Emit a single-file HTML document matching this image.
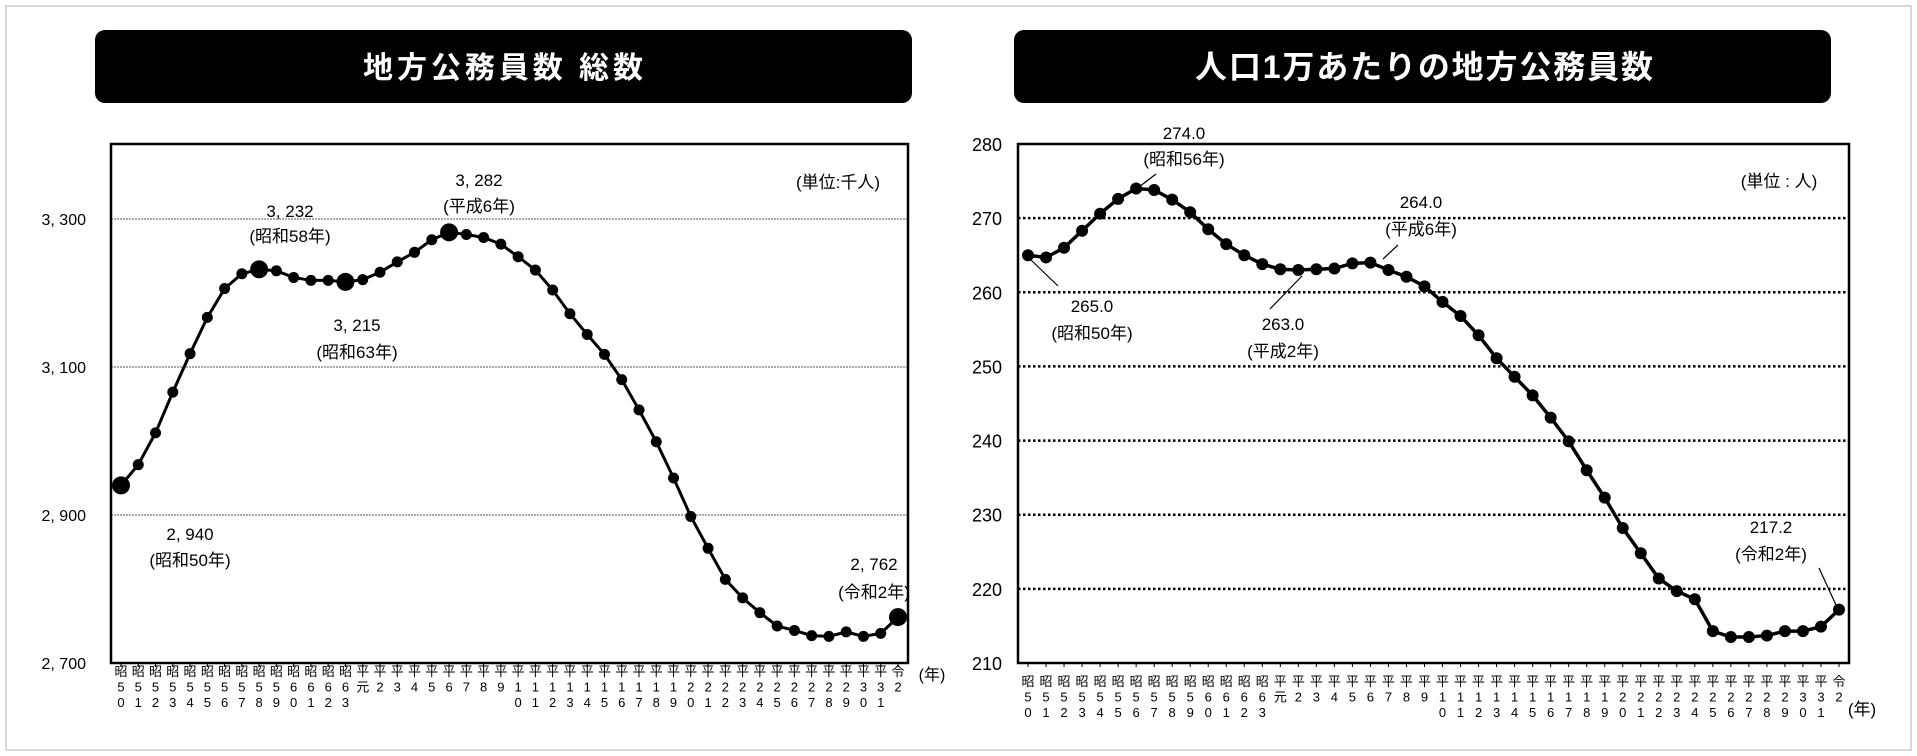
<!DOCTYPE html>
<html><head><meta charset="utf-8"><style>
html,body{margin:0;padding:0;background:#fff}
svg{display:block}
text{font-family:"Liberation Sans","Noto Sans CJK JP",sans-serif;fill:#000}
</style></head><body>
<svg id="s" width="1917" height="756" viewBox="0 0 1917 756" xmlns="http://www.w3.org/2000/svg">
<rect x="6" y="6" width="1905" height="744" fill="#fff" stroke="#d8d8d8" stroke-width="2"/>
<rect x="95" y="30" width="817" height="73" rx="10" fill="#000"/>
<text x="503" y="78" font-size="30" font-weight="bold" text-anchor="middle" style="fill:#fff" textLength="280">地方公務員数 総数</text>
<rect x="1014" y="30" width="817" height="73" rx="10" fill="#000"/>
<text x="1424" y="78" font-size="32" font-weight="bold" text-anchor="middle" style="fill:#fff" textLength="458">人口1万あたりの地方公務員数</text>
<g id="L"></g><g id="R"></g>
</svg>
<script>
const NS="http://www.w3.org/2000/svg";
function el(p,t,a,txt){const e=document.createElementNS(NS,t);for(const k in a)e.setAttribute(k,a[k]);if(txt!=null)e.textContent=txt;p.appendChild(e);return e;}
const labs=[];
for(let i=50;i<=63;i++)labs.push(["昭",...String(i)]);
labs.push(["平","元"]);
for(let i=2;i<=31;i++)labs.push(["平",...String(i)]);
labs.push(["令","2"]);
// Left
const L=document.getElementById("L");
const lv=[2940,2968,3011,3066,3118,3167,3206,3226,3232,3230,3221,3217,3217,3215,3218,3228,3242,3255,3272,3282,3279,3275,3266,3249,3231,3204,3172,3144,3117,3083,3042,2999,2950,2898,2855,2813,2788,2768,2750,2744,2737,2736,2742,2736,2740,2762];
const ly=v=>663-(v-2700)/200*148, lx=i=>121+i*(898-121)/45;
[3300,3100,2900].forEach(v=>el(L,"line",{x1:111,x2:908,y1:ly(v),y2:ly(v),stroke:"#555","stroke-width":1,"stroke-dasharray":"2,1"}));
el(L,"rect",{x:111,y:144,width:797,height:519,fill:"none",stroke:"#000","stroke-width":2.5});
[3300,3100,2900,2700].forEach(v=>el(L,"text",{x:86,y:ly(v)+6,"font-size":16,"text-anchor":"end"},v.toLocaleString("en").replace(",",", ")));
el(L,"polyline",{points:lv.map((v,i)=>lx(i)+","+ly(v)).join(" "),fill:"none",stroke:"#000","stroke-width":3});
const big=[0,8,13,19,45];
lv.forEach((v,i)=>el(L,"circle",{cx:lx(i),cy:ly(v),r:big.includes(i)?9:5.5,fill:"#000"}));
labs.forEach((l,i)=>{el(L,"line",{x1:lx(i),x2:lx(i),y1:663,y2:667,stroke:"#000"});l.forEach((c,j)=>el(L,"text",{x:lx(i),y:676+j*15.5,"font-size":13,"text-anchor":"middle"},c));});
el(L,"text",{x:932,y:680,"font-size":16,"text-anchor":"middle"},"(年)");
[[838,182,"(単位:千人)"],[290,211,"3, 232"],[290,236,"(昭和58年)"],[479,180,"3, 282"],[479,206,"(平成6年)"],[357,325,"3, 215"],[357,352,"(昭和63年)"],[190,534,"2, 940"],[190,560,"(昭和50年)"],[874,564,"2, 762"],[874,592,"(令和2年)"]].forEach(a=>el(L,"text",{x:a[0],y:a[1]+6,"font-size":17,"text-anchor":"middle"},a[2]));
// Right
const R=document.getElementById("R");
const rv=[265.0,264.7,266.0,268.3,270.6,272.6,274.0,273.8,272.5,270.8,268.5,266.5,265.0,263.8,263.1,263.0,263.1,263.2,263.9,264.0,263.0,262.1,260.8,258.7,256.8,254.2,251.1,248.6,246.1,243.1,239.9,236.0,232.3,228.2,224.8,221.4,219.7,218.6,214.3,213.5,213.5,213.7,214.3,214.3,214.9,217.2];
const ry=v=>144+(280-v)*519/70, rx=i=>1028+i*(1839-1028)/45;
[270,260,250,240,230,220].forEach(v=>el(R,"line",{x1:1018,x2:1849,y1:ry(v),y2:ry(v),stroke:"#000","stroke-width":2.5,"stroke-dasharray":"2.5,2.5"}));
el(R,"rect",{x:1018,y:144,width:831,height:519,fill:"none",stroke:"#000","stroke-width":2.5});
[280,270,260,250,240,230,220,210].forEach(v=>el(R,"text",{x:972,y:ry(v)+7,"font-size":18},v));
el(R,"polyline",{points:rv.map((v,i)=>rx(i)+","+ry(v)).join(" "),fill:"none",stroke:"#000","stroke-width":3.5});
rv.forEach((v,i)=>el(R,"circle",{cx:rx(i),cy:ry(v),r:6,fill:"#000"}));
labs.forEach((l,i)=>{el(R,"line",{x1:rx(i),x2:rx(i),y1:663,y2:667,stroke:"#000"});l.forEach((c,j)=>el(R,"text",{x:rx(i),y:686+j*15.5,"font-size":13,"text-anchor":"middle"},c));});
el(R,"text",{x:1862,y:715,"font-size":17,"text-anchor":"middle"},"(年)");
[[1779,181,"(単位 : 人)"],[1184,133,"274.0"],[1184,159,"(昭和56年)"],[1421,202,"264.0"],[1421,229,"(平成6年)"],[1092,306,"265.0"],[1092,333,"(昭和50年)"],[1283,324,"263.0"],[1283,351,"(平成2年)"],[1771,527,"217.2"],[1771,554,"(令和2年)"]].forEach(a=>el(R,"text",{x:a[0],y:a[1]+6,"font-size":17,"text-anchor":"middle"},a[2]));
[[1139,187,1156,174],[1383,259,1398,245],[1030,259,1058,286],[1302,276,1270,309],[1819,568,1836,605]].forEach(a=>el(R,"line",{x1:a[0],y1:a[1],x2:a[2],y2:a[3],stroke:"#000","stroke-width":1.2}));
</script>
</body></html>
